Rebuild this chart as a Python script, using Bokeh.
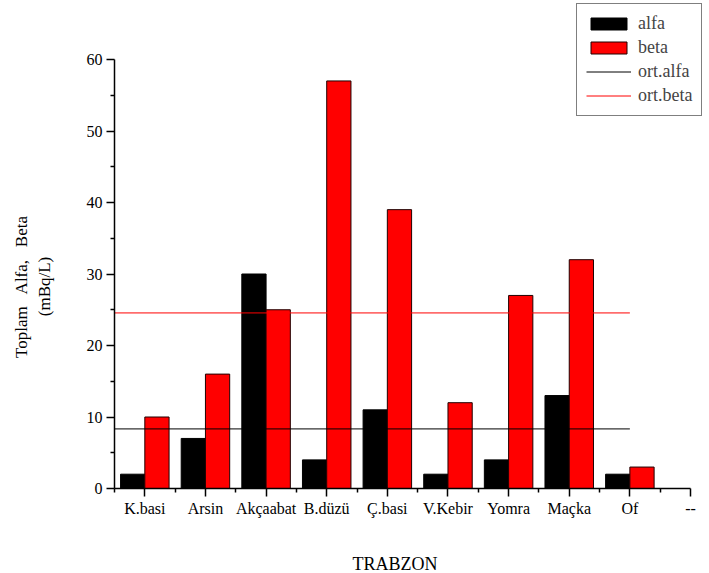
import numpy as np
from bokeh.plotting import figure
from bokeh.models import (Range1d, FixedTicker, Legend, LegendItem, Label,
                          LinearAxis, ColumnDataSource)
from bokeh.embed import file_html
from bokeh.resources import INLINE

# Sampling sites (Trabzon districts) and measured gross activities, mBq/L
sites = ["K.basi", "Arsin", "Akçaabat", "B.düzü", "Ç.basi",
         "V.Kebir", "Yomra", "Maçka", "Of"]
tick_labels = sites + ["--"]
alfa = [2, 7, 30, 4, 11, 2, 4, 13, 2]
beta = [10, 16, 25, 57, 39, 12, 27, 32, 3]
y_ticks = [0, 10, 20, 30, 40, 50, 60]
y_minor = [5, 15, 25, 35, 45, 55]

FONT = "Liberation Serif"

idx = np.arange(len(sites))
ort_alfa = float(np.mean(alfa))
ort_beta = float(np.mean(beta))

# the frame covers the whole canvas; axes are pinned inside it
W, H = 709, 573
X0, Y0 = 114, 488                 # pixel position of the axes corner
y_px = (Y0 - 59) / 60.0           # pixels per mBq/L
x_px = (690 - X0) / 9.5           # pixels per category slot


def to_x(sx):
    return -0.5 + (sx - X0) / x_px


def to_y(sy):
    return (Y0 - sy) / y_px


p = figure(width=W, height=H, output_backend="svg", toolbar_location=None,
           x_axis_location=None, y_axis_location=None,
           min_border=0)
p.x_range = Range1d(to_x(0), to_x(W))
p.y_range = Range1d(to_y(H), to_y(0))
p.outline_line_color = None
p.xgrid.visible = False
p.ygrid.visible = False
p.background_fill_color = "white"
p.border_fill_color = "white"

src = ColumnDataSource(dict(xa=idx - 0.2, xb=idx + 0.2, alfa=alfa, beta=beta))
r_alfa = p.vbar(x="xa", top="alfa", width=0.4, bottom=0, source=src,
                fill_color="black", line_color="black", line_width=1)
r_beta = p.vbar(x="xb", top="beta", width=0.4, bottom=0, source=src,
                fill_color="#ff0000", line_color="#200000", line_width=1)

line_x = [-0.5, float(idx[-1])]
r_oa = p.line(line_x, [ort_alfa, ort_alfa], line_color="black", line_width=1)
r_ob = p.line(line_x, [ort_beta, ort_beta], line_color="#ff0000", line_width=1)

# axes
xa = LinearAxis(fixed_location=0, bounds=(-0.5, len(tick_labels) - 1))
xa.ticker = FixedTicker(ticks=list(range(len(tick_labels))),
                        minor_ticks=[i + 0.5 for i in range(-1, len(tick_labels) - 1)])
xa.major_label_overrides = {i: t for i, t in enumerate(tick_labels)}
ya = LinearAxis(fixed_location=-0.5, bounds=(y_ticks[0], y_ticks[-1]))
ya.ticker = FixedTicker(ticks=y_ticks, minor_ticks=y_minor)

for ax in (xa, ya):
    ax.axis_line_color = "black"
    ax.axis_line_width = 1.5
    ax.major_tick_line_color = "black"
    ax.major_tick_line_width = 1.5
    ax.minor_tick_line_color = "black"
    ax.minor_tick_line_width = 1.5
    ax.major_tick_in = 0
    ax.major_tick_out = 8
    ax.minor_tick_in = 0
    ax.minor_tick_out = 4
    ax.major_label_text_font = FONT
    ax.major_label_text_font_size = "16px"
    ax.major_label_text_color = "black"
xa.major_label_standoff = 3
ya.major_label_standoff = 4
p.add_layout(xa, "below")
p.add_layout(ya, "left")

# axis titles
title_style = dict(text_font=FONT, text_font_size="17px", text_color="black")
p.add_layout(Label(x=to_x(21), y=to_y(286), angle=np.pi / 2,
                   text="Toplam\u2002 Alfa,\u2002 Beta", text_align="center",
                   text_baseline="middle", **title_style))
p.add_layout(Label(x=to_x(44), y=to_y(286), angle=np.pi / 2,
                   text="(mBq/L)", text_align="center",
                   text_baseline="middle", **title_style))
p.add_layout(Label(x=to_x(352), y=to_y(563), text="TRABZON",
                   text_align="left", text_baseline="alphabetic",
                   text_font=FONT, text_font_size="18px", text_color="black"))

legend = Legend(items=[
    LegendItem(label="alfa", renderers=[r_alfa]),
    LegendItem(label="beta", renderers=[r_beta]),
    LegendItem(label="ort.alfa", renderers=[r_oa]),
    LegendItem(label="ort.beta", renderers=[r_ob]),
], location=(576, H - 116))
legend.border_line_color = "black"
legend.border_line_width = 1
legend.background_fill_alpha = 1
legend.label_text_font = FONT
legend.label_text_font_size = "18px"
legend.label_standoff = 7
legend.glyph_width = 45
legend.glyph_height = 15
legend.spacing = 3
legend.padding = 9
legend.margin = 0
legend.label_height = 15
p.add_layout(legend)

open("out.html", "w").write(file_html(p, INLINE))
